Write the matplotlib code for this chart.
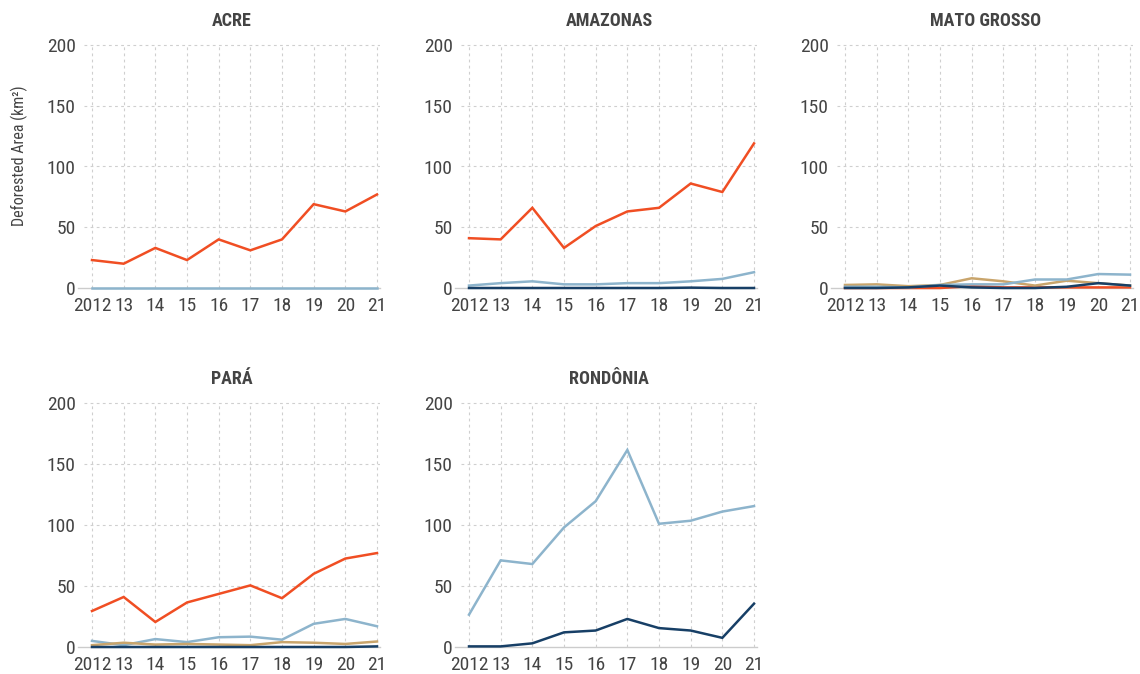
import matplotlib
matplotlib.use('Agg')
import matplotlib.pyplot as plt
from matplotlib import font_manager

# pick the narrowest installed family
installed = {f.name for f in font_manager.fontManager.ttflist}
candidates = ['Liberation Sans Narrow', 'Roboto Condensed', 'Open Sans Condensed', 'Roboto']
fam = [c for c in candidates if c in installed][:1]
plt.rcParams['font.family'] = fam + ['DejaVu Sans']

years = [2012, 2013, 2014, 2015, 2016, 2017, 2018, 2019, 2020, 2021]
year_labels = ['2012', '13', '14', '15', '16', '17', '18', '19', '20', '21']
y_ticks = [0, 50, 100, 150, 200]

# series per state (km2)
acre_red = [23, 20, 33, 23, 40, 31, 40, 69, 63, 77]
acre_lblue = [0, 0, 0, 0, 0, 0, 0, 0, 0, 0]

amaz_red = [41, 40, 66, 33, 51, 63, 66, 86, 79, 119]
amaz_lblue = [2, 4, 5.5, 3, 3, 4, 4, 5.5, 7.5, 13]
amaz_navy = [0, 0, 0, 0, 0, 0, 0, 0.3, 0, 0]

mt_red = [0, 0, 0, 0, 1.5, 0.5, 0.5, 0.5, 0.5, 0.5]
mt_tan = [2.5, 3, 1.5, 2.5, 8, 5.5, 2, 6, 4, 2]
mt_lblue = [1, 1, 0.5, 2.5, 3, 3, 7, 7, 11.5, 11]
mt_navy = [0, 0, 0.5, 2, 0.5, 0, 0, 1, 4, 2]

para_red = [29.5, 41, 20.5, 36.5, 43.5, 50.5, 40, 60, 72.5, 77]
para_lblue = [5, 1.5, 6.5, 4, 8, 8.5, 6, 19, 23, 17]
para_tan = [1.5, 3.5, 2, 2.5, 2, 1.5, 4, 3.5, 2.5, 4.5]
para_navy = [0, 0, 0, 0, 0, 0, 0, 0, 0, 0.5]

ro_lblue = [26.5, 71, 68, 98, 119.5, 161.5, 101, 103.5, 111, 115.5]
ro_navy = [0.5, 0.5, 3, 12, 13.5, 23, 15.5, 13.5, 7.5, 35.5]

RED = '#f04e23'
LBLUE = '#8db4cc'
NAVY = '#173f66'
TAN = '#c9a56c'
TXT = '#444444'

W, H = 1140, 674
fig = plt.figure(figsize=(W / 100, H / 100), dpi=100)
fig.patch.set_facecolor('white')

XMIN, XMAX = 2011.75, 2021.1
YMIN, YMAX = -4, 201


def make_axes(x2012, y200, y0):
    # pixel positions -> figure fraction
    px_year = (377 - 92) / 9
    px_unit = (y0 - y200) / 200
    left = x2012 - (2012 - XMIN) * px_year
    right = x2012 + (XMAX - 2012) * px_year
    top = y200 - (YMAX - 200) * px_unit
    bottom = y0 - YMIN * px_unit
    return fig.add_axes([left / W, 1 - bottom / H, (right - left) / W, (bottom - top) / H])


def panel(ax, title, series):
    ax.set_xlim(XMIN, XMAX)
    ax.set_ylim(YMIN, YMAX)
    for s in ax.spines.values():
        s.set_visible(False)
    for yt in y_ticks[1:]:
        ax.axhline(yt, color='#cfcfcf', lw=0.8, ls=(0, (2.5, 3)), zorder=0)
    ax.axhline(0, xmin=-0.02, color='#cccccc', lw=1.0, zorder=0, clip_on=False)
    ax.vlines(years, 0, 200, color='#cfcfcf', lw=0.8, linestyles=(0, (2.5, 3)), zorder=0)
    for vals, col in series:
        ax.plot(years, vals, color=col, lw=1.8, solid_joinstyle='miter', clip_on=False)
    ax.set_xticks(years)
    ax.set_xticklabels(year_labels)
    ax.set_yticks(y_ticks)
    ax.tick_params(length=0, labelsize=14, labelcolor=TXT)
    ax.tick_params(axis='x', pad=3)
    ax.tick_params(axis='y', pad=6)
    ax.set_title(title, fontsize=13, fontweight='bold', color=TXT, pad=13)


ax1 = make_axes(92, 45, 288)
panel(ax1, 'ACRE', [(acre_red, RED), (acre_lblue, LBLUE)])
ax1.set_ylabel('Deforested Area (km²)', fontsize=11.5, color=TXT)
ax1.yaxis.set_label_coords(-0.19, 0.55)

ax2 = make_axes(469, 45, 288)
panel(ax2, 'AMAZONAS', [(amaz_red, RED), (amaz_lblue, LBLUE), (amaz_navy, NAVY)])

ax3 = make_axes(845, 45, 288)
panel(ax3, 'MATO GROSSO', [(mt_red, RED), (mt_tan, TAN), (mt_lblue, LBLUE), (mt_navy, NAVY)])

ax4 = make_axes(92, 403, 647)
panel(ax4, 'PARÁ', [(para_red, RED), (para_lblue, LBLUE), (para_tan, TAN), (para_navy, NAVY)])

ax5 = make_axes(469, 403, 647)
panel(ax5, 'RONDÔNIA', [(ro_lblue, LBLUE), (ro_navy, NAVY)])

fig.savefig('out.png', dpi=100, facecolor='white')
